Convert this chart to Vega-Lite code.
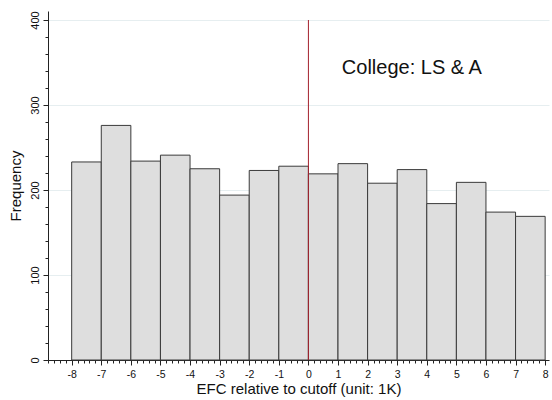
{
  "$schema": "https://vega.github.io/schema/vega-lite/v6.json",
  "autosize": "none",
  "width": 501,
  "height": 349,
  "padding": {"left": 48, "top": 11, "right": 3, "bottom": 40},
  "background": "white",
  "config": {
    "font": "Liberation Sans",
    "view": {"stroke": null},
    "axis": {"domainColor": "#222", "tickColor": "#222", "labelColor": "#111", "titleColor": "#111", "labelFont": "Liberation Sans", "titleFont": "Liberation Sans", "titleFontWeight": "normal"}
  },
  "datasets": {
    "bins": [
      {"start": -8, "end": -7, "count": 233},
      {"start": -7, "end": -6, "count": 276},
      {"start": -6, "end": -5, "count": 234},
      {"start": -5, "end": -4, "count": 241},
      {"start": -4, "end": -3, "count": 225},
      {"start": -3, "end": -2, "count": 194},
      {"start": -2, "end": -1, "count": 223},
      {"start": -1, "end": 0, "count": 228},
      {"start": 0, "end": 1, "count": 219},
      {"start": 1, "end": 2, "count": 231},
      {"start": 2, "end": 3, "count": 208},
      {"start": 3, "end": 4, "count": 224},
      {"start": 4, "end": 5, "count": 184},
      {"start": 5, "end": 6, "count": 209},
      {"start": 6, "end": 7, "count": 174},
      {"start": 7, "end": 8, "count": 169}
    ],
    "label": [{"x": 1.13, "y": 336.5, "text": "College: LS & A"}],
    "cutoff": [{"x": 0, "top": 400, "bottom": 0}]
  },
  "layer": [
    {
      "data": {"name": "bins"},
      "mark": {"type": "point", "opacity": 0},
      "encoding": {
        "x": {"field": "start", "type": "quantitative", "scale": {"domain": [-8.8, 8.13], "nice": false, "zero": false},
          "axis": {"orient": "bottom", "values": [-8.8,-8.6,-8.4,-8.2,-7.8,-7.6,-7.4,-7.2,-6.8,-6.6,-6.4,-6.2,-5.8,-5.6,-5.4,-5.2,-4.8,-4.6,-4.4,-4.2,-3.8,-3.6,-3.4,-3.2,-2.8,-2.6,-2.4,-2.2,-1.8,-1.6,-1.4,-1.2,-0.8,-0.6,-0.4,-0.2,0.2,0.4,0.6,0.8,1.2,1.4,1.6,1.8,2.2,2.4,2.6,2.8,3.2,3.4,3.6,3.8,4.2,4.4,4.6,4.8,5.2,5.4,5.6,5.8,6.2,6.4,6.6,6.8,7.2,7.4,7.6,7.8],
            "labels": false, "title": null, "domain": false, "grid": false, "tickSize": 3}},
        "y": {"field": "count", "type": "quantitative", "scale": {"domain": [0, 410.6], "nice": false},
          "axis": {"orient": "left", "values": [20,40,60,80,120,140,160,180,220,240,260,280,320,340,360,380],
            "labels": false, "title": null, "domain": false, "grid": false, "tickSize": 3}}
      }
    },
    {
      "data": {"name": "bins"},
      "mark": {"type": "bar", "fill": "#dedede", "stroke": "#3a3a3a", "strokeWidth": 1},
      "encoding": {
        "x": {"field": "start", "type": "quantitative",
          "axis": {"orient": "bottom", "values": [-8,-7,-6,-5,-4,-3,-2,-1,0,1,2,3,4,5,6,7,8], "labelExpr": "datum.value", "tickSize": 5, "labelFontSize": 10.5, "labelPadding": 4, "title": "EFC relative to cutoff (unit: 1K)", "titleFontSize": 15, "titlePadding": 2, "grid": false, "labelFlush": false}},
        "x2": {"field": "end"},
        "y": {"field": "count", "type": "quantitative",
          "axis": {"orient": "left", "values": [0,100,200,300,400], "tickSize": 5, "labelFontSize": 11, "labelAngle": -90, "labelAlign": "center", "labelBaseline": "bottom", "labelPadding": 3, "title": "Frequency", "titleFontSize": 15, "titlePadding": 6, "grid": true, "gridColor": "#e6eef0", "gridWidth": 1}},
        "y2": {"datum": 0}
      }
    },
    {
      "data": {"name": "cutoff"},
      "mark": {"type": "rule", "color": "#a3202c", "strokeWidth": 1},
      "encoding": {
        "x": {"field": "x", "type": "quantitative", "axis": null},
        "y": {"field": "top", "type": "quantitative", "axis": null},
        "y2": {"field": "bottom"}
      }
    },
    {
      "data": {"name": "label"},
      "mark": {"type": "text", "align": "left", "baseline": "alphabetic", "fontSize": 20, "color": "#111"},
      "encoding": {
        "x": {"field": "x", "type": "quantitative", "axis": null},
        "y": {"field": "y", "type": "quantitative", "axis": null},
        "text": {"field": "text"}
      }
    }
  ],
  "resolve": {"axis": {"x": "independent", "y": "independent"}}
}
